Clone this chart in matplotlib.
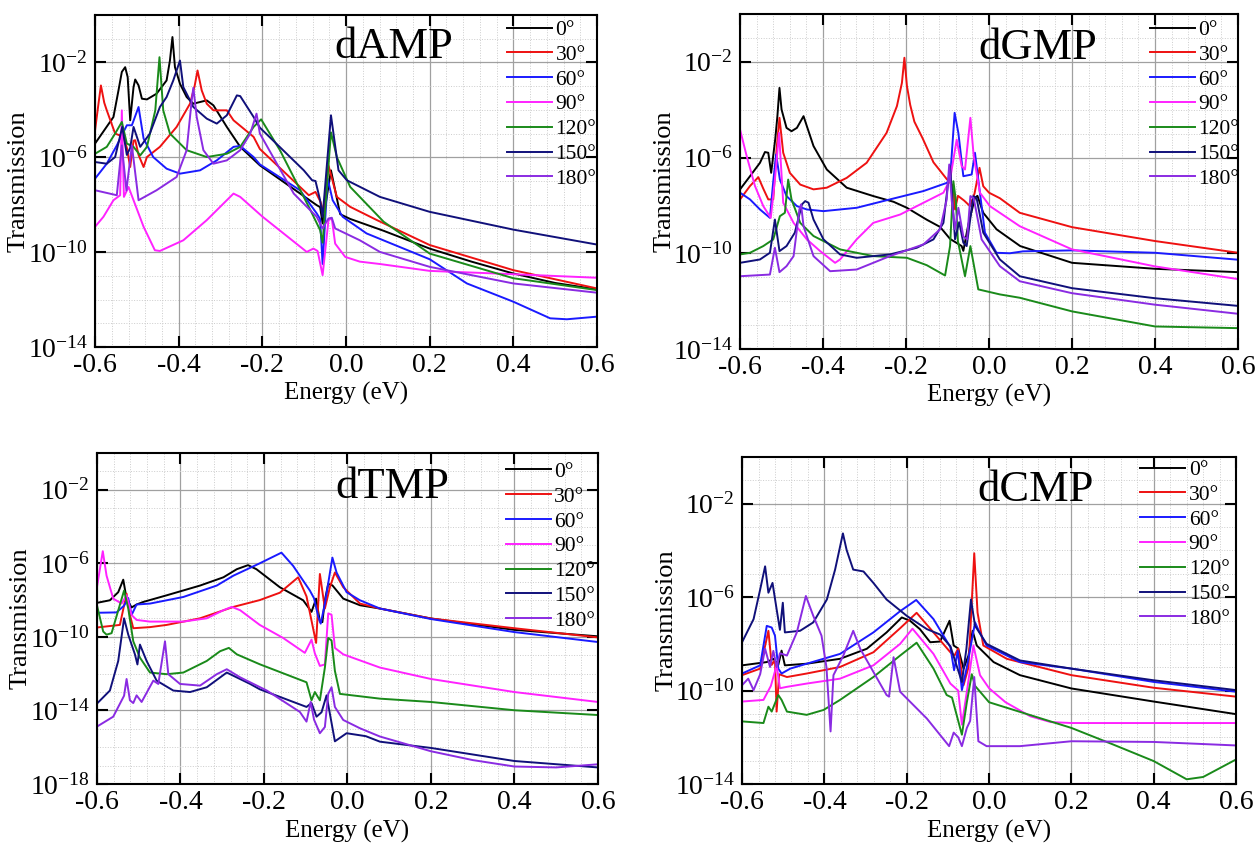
import numpy as np
import matplotlib.pyplot as plt
from matplotlib.ticker import MultipleLocator, LogLocator, FormatStrFormatter, NullFormatter

plt.rcParams['font.family'] = 'Liberation Serif'
plt.rcParams['mathtext.fontset'] = 'custom'
plt.rcParams['mathtext.rm'] = 'Liberation Serif'
plt.rcParams['mathtext.it'] = 'Liberation Serif:italic'
plt.rcParams['mathtext.bf'] = 'Liberation Serif:bold'
plt.rcParams['axes.unicode_minus'] = False

LABELS = ['0°', '30°', '60°', '90°', '120°', '150°', '180°']
COLORS = ['#000000', '#ee1111', '#1a1aff', '#ff22ff', '#1a8a1a', '#10107a', '#8a2be2']

# values are (energy in eV, log10 of transmission)
# --- dAMP ---
amp_0 = [(-0.6, -5.42), (-0.556, -4.3), (-0.544, -3.18), (-0.536, -2.4), (-0.528, -2.2), (-0.522, -2.62),
         (-0.516, -4.44), (-0.508, -3.04), (-0.504, -2.72), (-0.496, -2.97), (-0.488, -3.53), (-0.476, -3.56),
         (-0.453, -3.32), (-0.429, -2.76), (-0.421, -1.92), (-0.415, -0.93), (-0.409, -2.2), (-0.397, -2.9),
         (-0.381, -3.46), (-0.365, -3.74), (-0.333, -3.6), (-0.317, -3.81), (-0.285, -4.72), (-0.253, -5.56),
         (-0.206, -6.34), (-0.07, -8.02), (-0.062, -8.1), (-0.056, -8.79), (-0.036, -6.55), (-0.014, -8.4),
         (0.01, -8.6), (0.09, -9.1), (0.2, -9.85), (0.3, -10.4), (0.4, -10.9), (0.5, -11.3), (0.6, -11.57)]
amp_30 = [(-0.6, -4.86), (-0.593, -3.9), (-0.586, -2.97), (-0.578, -3.7), (-0.572, -4.02), (-0.552, -5.0),
          (-0.532, -5.14), (-0.524, -5.6), (-0.516, -6.41), (-0.508, -5.3), (-0.504, -5.28), (-0.496, -5.9),
          (-0.484, -6.41), (-0.476, -5.99), (-0.445, -5.56), (-0.405, -4.72), (-0.373, -3.74), (-0.362, -3.0),
          (-0.355, -2.34), (-0.345, -3.18), (-0.333, -3.74), (-0.317, -4.02), (-0.285, -4.02), (-0.269, -4.44),
          (-0.221, -5.14), (-0.206, -5.65), (-0.089, -7.6), (-0.073, -7.46), (-0.061, -7.88), (-0.053, -8.37),
          (-0.042, -6.34), (-0.022, -7.67), (0.01, -8.09), (0.074, -8.65), (0.2, -9.7), (0.4, -10.76), (0.6, -11.53)]
amp_60 = [(-0.6, -6.9), (-0.572, -6.27), (-0.548, -5.5), (-0.524, -4.65), (-0.512, -4.65), (-0.496, -3.88),
          (-0.484, -5.21), (-0.461, -5.99), (-0.429, -6.48), (-0.397, -6.69), (-0.349, -6.55), (-0.309, -6.13),
          (-0.269, -5.56), (-0.253, -5.52), (-0.221, -5.99), (-0.206, -6.3), (-0.11, -7.39), (-0.07, -8.37),
          (-0.062, -8.6), (-0.056, -10.5), (-0.044, -6.9), (-0.032, -7.81), (-0.008, -8.51), (0.049, -9.21),
          (0.2, -10.3), (0.289, -11.32), (0.4, -12.09), (0.488, -12.79), (0.528, -12.83), (0.6, -12.72)]
amp_90 = [(-0.6, -8.93), (-0.58, -8.51), (-0.556, -7.81), (-0.54, -7.6), (-0.536, -4.02), (-0.531, -7.67),
          (-0.52, -7.25), (-0.508, -7.81), (-0.484, -8.93), (-0.457, -9.92), (-0.445, -9.95), (-0.389, -9.5),
          (-0.333, -8.65), (-0.285, -7.81), (-0.269, -7.53), (-0.253, -7.67), (-0.2, -8.5), (-0.094, -9.99),
          (-0.078, -9.85), (-0.068, -9.95), (-0.056, -10.97), (-0.042, -8.65), (-0.034, -8.58), (-0.026, -9.64),
          (-0.002, -10.2), (0.033, -10.4), (0.081, -10.5), (0.2, -10.79), (0.4, -10.93), (0.6, -11.08)]
amp_120 = [(-0.6, -5.85), (-0.572, -5.56), (-0.552, -5.0), (-0.536, -4.51), (-0.524, -5.42), (-0.508, -5.56),
           (-0.492, -5.92), (-0.476, -5.56), (-0.456, -4.02), (-0.446, -1.78), (-0.437, -4.02), (-0.421, -5.0),
           (-0.381, -5.7), (-0.333, -5.99), (-0.285, -5.85), (-0.253, -5.56), (-0.221, -4.72), (-0.203, -4.4),
           (-0.158, -5.7), (-0.085, -8.23), (-0.062, -9.07), (-0.056, -9.6), (-0.036, -4.95), (-0.022, -5.99),
           (0.01, -7.25), (0.09, -8.72), (0.2, -10.06), (0.4, -11.1), (0.6, -11.6)]
amp_150 = [(-0.6, -6.2), (-0.572, -6.27), (-0.552, -5.99), (-0.535, -4.72), (-0.524, -5.9), (-0.516, -5.6),
           (-0.508, -4.72), (-0.492, -5.56), (-0.469, -5.0), (-0.445, -3.88), (-0.429, -3.46), (-0.413, -2.76),
           (-0.397, -1.92), (-0.389, -3.04), (-0.365, -3.88), (-0.333, -4.37), (-0.309, -4.58), (-0.285, -4.23),
           (-0.261, -3.39), (-0.253, -3.42), (-0.221, -4.3), (-0.206, -4.75), (-0.101, -6.55), (-0.081, -6.97),
           (-0.073, -7.0), (-0.062, -7.81), (-0.056, -8.51), (-0.036, -4.23), (-0.018, -6.55), (0.002, -6.97),
           (0.081, -7.67), (0.2, -8.3), (0.4, -9.05), (0.6, -9.68)]
amp_180 = [(-0.6, -7.39), (-0.548, -7.6), (-0.536, -5.5), (-0.525, -7.4), (-0.512, -5.5), (-0.496, -7.81),
           (-0.453, -7.39), (-0.405, -6.83), (-0.381, -5.7), (-0.369, -3.6), (-0.365, -3.07), (-0.357, -4.3),
           (-0.341, -5.7), (-0.317, -6.27), (-0.285, -6.13), (-0.253, -5.7), (-0.229, -5.0), (-0.214, -4.16),
           (-0.206, -5.0), (-0.125, -7.53), (-0.07, -8.51), (-0.056, -9.0), (-0.042, -8.58), (-0.034, -8.55),
           (-0.026, -9.0), (0.033, -9.5), (0.081, -9.99), (0.2, -10.62), (0.4, -11.32), (0.6, -11.71)]

# --- dGMP ---
gmp_0 = [(-0.6, -7.33), (-0.576, -6.78), (-0.552, -6.22), (-0.54, -5.77), (-0.532, -5.8), (-0.525, -6.64),
         (-0.515, -5.2), (-0.51, -4.27), (-0.505, -3.09), (-0.5, -3.99), (-0.488, -4.76), (-0.476, -4.9),
         (-0.463, -4.76), (-0.447, -4.27), (-0.439, -4.69), (-0.423, -5.52), (-0.391, -6.5), (-0.343, -7.26),
         (-0.279, -7.61), (-0.23, -7.85), (-0.198, -8.1), (-0.15, -8.6), (-0.118, -8.9), (-0.094, -9.4),
         (-0.066, -9.7), (-0.062, -9.9), (-0.05, -8.8), (-0.034, -7.68), (-0.028, -7.6), (-0.014, -8.31),
         (0.018, -9.0), (0.075, -9.7), (0.2, -10.4), (0.4, -10.65), (0.6, -10.79)]
gmp_30 = [(-0.6, -7.75), (-0.576, -7.19), (-0.556, -6.82), (-0.544, -7.3), (-0.532, -7.75), (-0.52, -7.75),
          (-0.512, -5.66), (-0.505, -4.34), (-0.496, -5.8), (-0.48, -6.64), (-0.455, -7.13), (-0.423, -7.33),
          (-0.391, -7.26), (-0.343, -6.85), (-0.295, -6.22), (-0.247, -4.97), (-0.222, -3.85), (-0.21, -2.88),
          (-0.204, -1.83), (-0.198, -3.0), (-0.19, -3.8), (-0.18, -4.5), (-0.16, -5.2), (-0.134, -6.2),
          (-0.102, -6.9), (-0.086, -7.2), (-0.082, -8.17), (-0.075, -7.6), (-0.06, -7.8), (-0.046, -8.03),
          (-0.035, -7.5), (-0.023, -6.43), (-0.014, -7.2), (0.0, -7.47), (0.026, -7.7), (0.074, -8.31),
          (0.2, -8.91), (0.4, -9.49), (0.6, -9.98)]
gmp_60 = [(-0.6, -7.47), (-0.576, -7.75), (-0.552, -8.17), (-0.528, -8.52), (-0.52, -7.0), (-0.513, -5.87),
          (-0.504, -6.92), (-0.488, -7.61), (-0.463, -8.03), (-0.439, -8.17), (-0.399, -8.24), (-0.319, -8.1),
          (-0.239, -7.75), (-0.158, -7.4), (-0.102, -7.06), (-0.094, -6.9), (-0.083, -4.13), (-0.074, -4.97),
          (-0.062, -6.78), (-0.042, -6.71), (-0.034, -5.8), (-0.026, -6.92), (-0.01, -9.14), (0.018, -9.98),
          (0.05, -10.0), (0.082, -9.92), (0.2, -9.88), (0.4, -9.98), (0.6, -10.27)]
gmp_90 = [(-0.6, -4.83), (-0.584, -5.94), (-0.564, -7.19), (-0.544, -8.03), (-0.526, -8.52), (-0.516, -6.92),
          (-0.506, -4.97), (-0.496, -7.89), (-0.471, -8.73), (-0.439, -9.42), (-0.407, -9.91), (-0.371, -10.4),
          (-0.359, -10.26), (-0.319, -9.42), (-0.279, -8.73), (-0.214, -8.38), (-0.11, -7.47), (-0.094, -6.92),
          (-0.078, -5.25), (-0.066, -6.36), (-0.058, -6.5), (-0.045, -4.34), (-0.037, -5.94), (-0.022, -7.47),
          (0.002, -8.03), (0.074, -8.87), (0.2, -9.84), (0.4, -10.55), (0.6, -11.08)]
gmp_120 = [(-0.6, -10.05), (-0.576, -9.98), (-0.544, -9.7), (-0.52, -9.42), (-0.504, -8.45), (-0.492, -8.31),
           (-0.484, -6.92), (-0.476, -7.75), (-0.455, -8.73), (-0.423, -9.28), (-0.359, -9.84), (-0.279, -10.12),
           (-0.198, -10.19), (-0.15, -10.5), (-0.106, -10.93), (-0.094, -9.7), (-0.086, -6.99), (-0.08, -7.8),
           (-0.075, -9.5), (-0.058, -10.96), (-0.045, -9.7), (-0.026, -11.51), (0.026, -11.72), (0.074, -11.86),
           (0.2, -12.43), (0.4, -13.06), (0.6, -13.13)]
gmp_150 = [(-0.6, -10.4), (-0.552, -10.26), (-0.528, -9.98), (-0.516, -8.59), (-0.505, -9.91), (-0.488, -9.7),
           (-0.468, -9.14), (-0.451, -7.96), (-0.443, -7.82), (-0.435, -7.89), (-0.423, -8.59), (-0.399, -9.42),
           (-0.359, -10.05), (-0.319, -10.19), (-0.239, -10.05), (-0.174, -9.77), (-0.134, -9.42), (-0.11, -8.73),
           (-0.094, -6.36), (-0.082, -9.42), (-0.072, -8.7), (-0.062, -9.56), (-0.054, -9.7), (-0.038, -7.61),
           (-0.03, -7.7), (-0.014, -9.14), (0.026, -10.26), (0.074, -10.96), (0.2, -11.46), (0.4, -11.88),
           (0.6, -12.2)]
gmp_180 = [(-0.6, -10.96), (-0.528, -10.89), (-0.516, -9.77), (-0.505, -10.79), (-0.488, -10.54),
           (-0.471, -10.12), (-0.457, -8.17), (-0.453, -7.96), (-0.447, -8.87), (-0.423, -10.12), (-0.383, -10.75),
           (-0.319, -10.68), (-0.239, -10.12), (-0.158, -9.63), (-0.118, -9.0), (-0.102, -7.75), (-0.096, -6.29),
           (-0.09, -7.8), (-0.082, -9.0), (-0.074, -8.1), (-0.062, -9.3), (-0.053, -9.42), (-0.045, -7.61),
           (-0.037, -7.7), (-0.018, -9.42), (0.026, -10.54), (0.074, -11.17), (0.2, -11.67), (0.4, -12.15),
           (0.6, -12.53)]

# --- dTMP ---
tmp_0 = [(-0.6, -8.15), (-0.569, -8.01), (-0.549, -7.57), (-0.537, -6.89), (-0.529, -7.92), (-0.517, -8.4),
         (-0.505, -8.24), (-0.489, -8.1), (-0.433, -7.74), (-0.353, -7.21), (-0.297, -6.76), (-0.265, -6.32),
         (-0.238, -6.1), (-0.218, -6.32), (-0.162, -7.3), (-0.106, -8.01), (-0.086, -8.64), (-0.075, -7.92),
         (-0.066, -9.17), (-0.06, -9.2), (-0.054, -8.01), (-0.046, -7.12), (-0.036, -7.2), (-0.01, -7.92),
         (0.03, -8.28), (0.078, -8.46), (0.2, -9.0), (0.4, -9.62), (0.6, -9.97)]
tmp_30 = [(-0.6, -9.49), (-0.545, -9.35), (-0.529, -7.65), (-0.521, -8.81), (-0.513, -9.53), (-0.473, -9.47),
          (-0.433, -9.35), (-0.353, -8.99), (-0.273, -8.37), (-0.21, -8.0), (-0.162, -7.6), (-0.118, -6.76),
          (-0.098, -7.8), (-0.075, -10.33), (-0.066, -6.58), (-0.054, -8.46), (-0.042, -7.3), (-0.03, -6.5),
          (-0.01, -7.3), (0.03, -8.19), (0.078, -8.46), (0.2, -9.0), (0.4, -9.53), (0.6, -10.03)]
tmp_60 = [(-0.6, -8.69), (-0.553, -8.67), (-0.535, -8.3), (-0.525, -7.89), (-0.517, -8.81), (-0.505, -8.24),
          (-0.473, -8.19), (-0.393, -7.83), (-0.313, -7.21), (-0.273, -6.67), (-0.21, -6.0), (-0.158, -5.42),
          (-0.13, -6.14), (-0.09, -7.48), (-0.08, -7.9), (-0.07, -8.9), (-0.064, -9.28), (-0.054, -8.2),
          (-0.036, -5.69), (-0.026, -6.5), (-0.002, -7.57), (0.03, -8.01), (0.078, -8.46), (0.2, -9.03),
          (0.4, -9.74), (0.6, -10.28)]
tmp_90 = [(-0.6, -7.3), (-0.586, -5.34), (-0.577, -6.67), (-0.561, -7.92), (-0.541, -8.19), (-0.529, -7.74),
          (-0.517, -8.81), (-0.505, -9.08), (-0.473, -9.17), (-0.393, -9.17), (-0.337, -8.99), (-0.297, -8.55),
          (-0.277, -8.37), (-0.257, -8.55), (-0.21, -9.35), (-0.154, -10.06), (-0.102, -10.87), (-0.086, -10.15),
          (-0.078, -10.9), (-0.066, -11.58), (-0.054, -11.5), (-0.046, -8.72), (-0.038, -8.8), (-0.03, -10.6),
          (-0.01, -10.95), (0.078, -11.67), (0.2, -12.29), (0.4, -13.0), (0.6, -13.54)]
tmp_120 = [(-0.6, -8.28), (-0.585, -9.71), (-0.577, -9.88), (-0.565, -9.8), (-0.535, -7.48), (-0.525, -8.46),
           (-0.513, -10.24), (-0.497, -11.13), (-0.473, -11.94), (-0.433, -12.03), (-0.393, -11.94),
           (-0.337, -11.31), (-0.305, -10.78), (-0.284, -10.6), (-0.265, -10.95), (-0.21, -11.49), (-0.098, -12.47),
           (-0.086, -13.45), (-0.078, -13.0), (-0.066, -13.45), (-0.054, -11.67), (-0.046, -10.06), (-0.038, -10.2),
           (-0.03, -11.85), (-0.018, -13.1), (0.078, -13.36), (0.2, -13.54), (0.4, -13.99), (0.6, -14.25)]
tmp_150 = [(-0.6, -13.63), (-0.569, -12.92), (-0.549, -11.31), (-0.535, -8.99), (-0.525, -9.88), (-0.509, -10.95),
           (-0.503, -11.5), (-0.497, -10.42), (-0.481, -11.31), (-0.457, -12.38), (-0.417, -12.92), (-0.377, -13.0),
           (-0.337, -12.74), (-0.289, -11.94), (-0.233, -12.56), (-0.21, -12.85), (-0.098, -13.81), (-0.086, -13.6),
           (-0.074, -14.34), (-0.062, -14.1), (-0.05, -13.18), (-0.03, -15.68), (-0.002, -15.24), (0.044, -15.4),
           (0.078, -15.7), (0.2, -16.04), (0.4, -16.75), (0.6, -17.1)]
tmp_180 = [(-0.6, -14.88), (-0.561, -14.34), (-0.535, -13.2), (-0.529, -12.29), (-0.521, -13.45), (-0.513, -13.6),
           (-0.505, -13.18), (-0.493, -13.54), (-0.465, -12.38), (-0.453, -12.56), (-0.437, -10.24),
           (-0.429, -12.03), (-0.401, -12.56), (-0.353, -12.65), (-0.313, -12.03), (-0.289, -11.76),
           (-0.257, -12.2), (-0.193, -12.92), (-0.114, -14.08), (-0.098, -14.61), (-0.088, -13.54), (-0.08, -14.5),
           (-0.066, -15.24), (-0.054, -14.9), (-0.046, -13.1), (-0.038, -12.74), (-0.03, -13.81), (-0.01, -14.52),
           (0.03, -14.97), (0.078, -15.42), (0.2, -16.22), (0.3, -16.7), (0.4, -17.05), (0.5, -17.1), (0.6, -16.93)]

# --- dCMP ---
cmp_0 = [(-0.6, -8.92), (-0.54, -8.78), (-0.524, -8.64), (-0.512, -8.9), (-0.504, -8.29), (-0.496, -8.92),
         (-0.443, -8.85), (-0.362, -8.64), (-0.297, -8.21), (-0.249, -7.51), (-0.212, -6.87), (-0.192, -7.01),
         (-0.168, -7.37), (-0.143, -7.93), (-0.119, -7.9), (-0.096, -7.01), (-0.086, -8.07), (-0.075, -8.2),
         (-0.062, -9.06), (-0.05, -8.5), (-0.04, -7.44), (-0.03, -8.07), (0.011, -8.78), (0.075, -9.34),
         (0.2, -9.91), (0.4, -10.47), (0.6, -11.01)]
cmp_30 = [(-0.6, -9.34), (-0.556, -9.06), (-0.536, -7.44), (-0.528, -8.9), (-0.52, -8.7), (-0.516, -10.9),
          (-0.51, -9.3), (-0.491, -9.42), (-0.443, -9.27), (-0.362, -8.99), (-0.281, -8.36), (-0.216, -7.33),
          (-0.176, -6.67), (-0.135, -7.51), (-0.094, -8.36), (-0.084, -8.5), (-0.075, -8.2), (-0.062, -9.77),
          (-0.05, -9.0), (-0.036, -4.12), (-0.028, -6.66), (-0.014, -8.07), (0.043, -8.64), (0.2, -9.34),
          (0.4, -9.88), (0.6, -10.26)]
cmp_60 = [(-0.6, -9.27), (-0.556, -8.92), (-0.54, -7.23), (-0.528, -7.3), (-0.52, -7.65), (-0.512, -9.06),
          (-0.504, -9.27), (-0.483, -9.06), (-0.443, -8.85), (-0.362, -8.43), (-0.281, -7.51), (-0.216, -6.6),
          (-0.177, -6.12), (-0.135, -6.94), (-0.094, -8.14), (-0.085, -9.13), (-0.076, -8.3), (-0.066, -9.98),
          (-0.054, -9.0), (-0.034, -7.08), (-0.026, -7.4), (-0.006, -8.07), (0.075, -8.78), (0.2, -9.06),
          (0.4, -9.63), (0.6, -10.05)]
cmp_90 = [(-0.6, -10.47), (-0.548, -10.4), (-0.53, -9.8), (-0.516, -8.92), (-0.508, -9.9), (-0.491, -9.84),
          (-0.443, -9.7), (-0.362, -9.49), (-0.281, -8.92), (-0.216, -8.0), (-0.186, -7.35), (-0.135, -8.43),
          (-0.094, -9.7), (-0.075, -10.0), (-0.066, -11.46), (-0.054, -10.05), (-0.038, -8.07), (-0.022, -9.34),
          (0.0, -9.9), (0.04, -10.5), (0.1, -11.1), (0.15, -11.35), (0.2, -11.39), (0.4, -11.39), (0.6, -11.39)]
cmp_120 = [(-0.6, -11.32), (-0.548, -11.39), (-0.536, -10.69), (-0.528, -10.9), (-0.512, -10.19), (-0.504, -10.4),
           (-0.491, -10.9), (-0.443, -11.04), (-0.402, -10.83), (-0.362, -10.4), (-0.281, -9.42), (-0.216, -8.5),
           (-0.176, -7.95), (-0.135, -9.06), (-0.103, -10.19), (-0.09, -10.3), (-0.066, -11.89), (-0.054, -10.5),
           (-0.042, -9.3), (-0.034, -9.8), (0.0, -10.5), (0.2, -11.6), (0.3, -12.3), (0.4, -13.02), (0.48, -13.8),
           (0.52, -13.7), (0.6, -12.95)]
cmp_150 = [(-0.6, -7.93), (-0.572, -6.94), (-0.556, -5.67), (-0.544, -4.68), (-0.536, -5.81), (-0.526, -5.39),
           (-0.516, -6.52), (-0.508, -7.4), (-0.501, -6.24), (-0.496, -7.51), (-0.459, -7.44), (-0.427, -7.08),
           (-0.394, -6.1), (-0.374, -4.82), (-0.355, -3.27), (-0.346, -3.98), (-0.33, -4.82), (-0.305, -4.9),
           (-0.281, -5.39), (-0.249, -6.1), (-0.2, -6.8), (-0.151, -7.37), (-0.119, -7.6), (-0.094, -8.1),
           (-0.066, -9.63), (-0.055, -8.2), (-0.044, -6.1), (-0.034, -7.23), (-0.006, -8.0), (0.075, -8.71),
           (0.2, -9.06), (0.4, -9.56), (0.6, -9.98)]
cmp_180 = [(-0.6, -9.77), (-0.585, -9.49), (-0.572, -9.98), (-0.556, -9.3), (-0.544, -8.21), (-0.532, -8.99),
           (-0.524, -8.3), (-0.516, -9.0), (-0.508, -8.4), (-0.491, -8.5), (-0.467, -7.51), (-0.445, -5.95),
           (-0.427, -6.8), (-0.407, -7.65), (-0.395, -9.0), (-0.385, -11.75), (-0.378, -9.34), (-0.354, -8.5),
           (-0.33, -7.44), (-0.313, -8.21), (-0.281, -9.2), (-0.249, -10.19), (-0.243, -10.26), (-0.232, -8.57),
           (-0.216, -10.05), (-0.151, -11.2), (-0.097, -12.38), (-0.086, -11.8), (-0.075, -12.0), (-0.066, -12.38),
           (-0.054, -11.6), (-0.046, -11.3), (-0.036, -9.42), (-0.026, -12.17), (-0.006, -12.38), (0.075, -12.38),
           (0.2, -12.17), (0.4, -12.2), (0.6, -12.35)]

PANELS = [
    ('dAMP', [amp_0, amp_30, amp_60, amp_90, amp_120, amp_150, amp_180],
     [0.0755, 0.5903, 0.3987, 0.3920], -14, (0.821, 0.985), (0.596, 0.905), -0.106),
    ('dGMP', [gmp_0, gmp_30, gmp_60, gmp_90, gmp_120, gmp_150, gmp_180],
     [0.5878, 0.5880, 0.3956, 0.3955], -14, (0.823, 0.982), (0.597, 0.898), -0.105),
    ('dTMP', [tmp_0, tmp_30, tmp_60, tmp_90, tmp_120, tmp_150, tmp_180],
     [0.0770, 0.0744, 0.3979, 0.3908], -18, (0.816, 0.973), (0.589, 0.898), -0.108),
    ('dCMP', [cmp_0, cmp_30, cmp_60, cmp_90, cmp_120, cmp_150, cmp_180],
     [0.5894, 0.0744, 0.3924, 0.3860], -14, (0.806, 0.991), (0.595, 0.900), -0.109),
]

fig = plt.figure(figsize=(12.59, 8.47), dpi=100)

for title, series, rect, ylow, leg_xy, title_xy, xlab_y in PANELS:
    ax = fig.add_axes(rect)
    for data, lab, col in zip(series, LABELS, COLORS):
        e = np.array([p[0] for p in data])
        t = 10.0 ** np.array([p[1] for p in data])
        ax.plot(e, t, color=col, lw=1.4, label=lab)
    ax.set_yscale('log')
    ax.set_xlim(-0.6, 0.6)
    ax.set_ylim(10.0 ** ylow, 1.0)
    ax.set_xticks([-0.6, -0.4, -0.2, 0.0, 0.2, 0.4, 0.6])
    ax.xaxis.set_major_formatter(FormatStrFormatter('%.1f'))
    ax.xaxis.set_minor_locator(MultipleLocator(0.04))
    ax.set_yticks([10.0 ** k for k in range(ylow, 0, 4)])
    ax.yaxis.set_minor_locator(LogLocator(base=10, subs=(1.0,), numticks=40))
    ax.yaxis.set_minor_formatter(NullFormatter())
    ax.tick_params(which='major', direction='in', length=8, width=1.5, labelsize=20,
                   top=True, right=True)
    ax.tick_params(axis='y', which='major', pad=5)
    ax.tick_params(axis='x', which='major', pad=4)
    ax.tick_params(which='minor', length=0)
    ax.grid(True, which='major', color='#a0a0a0', lw=0.9)
    ax.grid(True, which='minor', color='#cccccc', lw=0.7, ls=':')
    ax.set_axisbelow(True)
    for s in ax.spines.values():
        s.set_linewidth(1.5)
    ax.set_ylabel('Transmission', fontsize=19)
    ax.set_xlabel('Energy (eV)', fontsize=18)
    ax.yaxis.set_label_coords(-0.13, 0.5)
    ax.xaxis.set_label_coords(0.5, xlab_y)
    ax.text(title_xy[0], title_xy[1], title, transform=ax.transAxes, fontsize=32,
            ha='center', va='center')
    ax.legend(loc='upper left', bbox_to_anchor=leg_xy, frameon=False, fontsize=15.5,
              handlelength=2.1, handletextpad=0.15, labelspacing=0.22,
              borderpad=0, borderaxespad=0)

fig.savefig('out.png', dpi=100)
